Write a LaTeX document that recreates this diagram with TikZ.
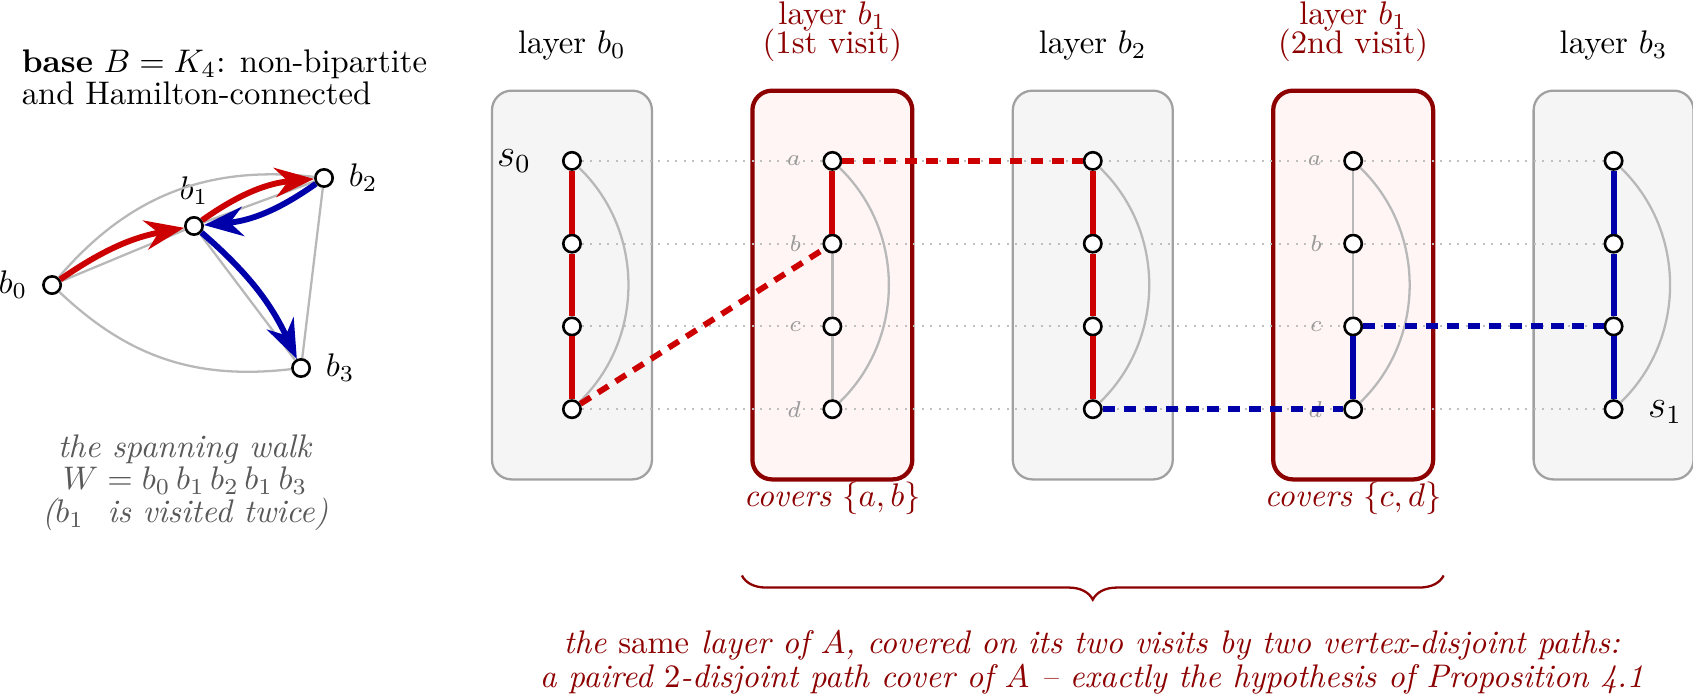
\documentclass[tikz,border=0pt]{standalone}
\usepackage{amsmath}
\usepackage{amssymb}
\usepackage{tikz}
\usetikzlibrary{arrows.meta}
\usetikzlibrary{decorations.pathreplacing}
\usetikzlibrary{positioning}
\usetikzlibrary{backgrounds}
\definecolor{walkred}{RGB}{204,0,0}
\definecolor{walkblue}{RGB}{0,0,170}
\definecolor{boxred}{RGB}{140,0,0}
\tikzset{basic/.style={draw,circle,fill=white,line width=0.8pt,
                       minimum size=5.3pt,inner sep=0pt}}
\tikzset{layerbox/.style={draw=black!37,fill=black!4,rounded corners=6pt,line width=0.7pt,
                          minimum width=1.72cm,minimum height=4.18cm}}
\tikzset{visitbox/.style={layerbox,draw=boxred,fill=red!4,line width=1.3pt}}
\def\layersep{2.8}
\def\rowsep{0.89}

\begin{document}
\begin{tikzpicture}[>={Stealth[length=12pt,width=9pt,inset=4pt]}]
    \tikzstyle{kedge}=[draw=black!28,line width=0.7pt]
    \tikzstyle{guide}=[draw=black!25,line width=0.6pt,dotted]
    \tikzstyle{walk}=[line width=1.8pt]
    \tikzstyle{jump}=[walk,dash pattern=on 3.7pt off 2.7pt]
    \tikzstyle{vlabel}=[text=black!40,font=\scriptsize]
    \tikzstyle{annot}=[align=center]

    \useasboundingbox (0,0) rectangle (18.204,-7.484);

    % The base graph B = K_4 and its spanning walk
    \node[anchor=north west,align=left] (title) at (0.11,-0.41)
        {\textbf{base} $B=K_4$: non-bipartite\\[-2.3pt]and Hamilton-connected};
    \node[basic,label={[label distance=1pt]left:$b_0$}] (B-0) at (0.56,-3.065) {};
    \node[basic,label=above:$b_1$] (B-1) at (2.086,-2.43) {};
    \node[basic,label={[label distance=1pt]right:$b_2$}] (B-2) at (3.484,-1.914) {};
    \node[basic,label={[label distance=1pt]right:$b_3$}] (B-3) at (3.237,-3.957) {};

    \path[kedge] (B-0) to[bend left=28] (B-2);
    \path[kedge] (B-0) to[bend right=25] (B-3);
    \foreach \source/\dest in {0/1,1/2,1/3,2/3}
        \path[kedge] (B-\source) -- (B-\dest);

    \draw[walk,walkred,->] (B-0) to[bend left=12] (B-1);
    \draw[walk,walkred,->] (B-1) to[bend left=15] (B-2);
    \draw[walk,walkblue,->] (B-2) to[bend left=15] (B-1);
    \draw[walk,walkblue,->] (B-1) to[bend left=12] (B-3);

    \node[annot,text=black!65] (walk) at (1.99,-5.19)
        {\textit{the spanning walk}\\[-2pt]$W=b_0\,b_1\,b_2\,b_1\,b_3$\\[-2pt]\textit{($b_1$ ~is visited twice)}};

    % Draw the layer vertices
    \foreach \i in {0,...,4}
        \foreach \v/\y in {a/1,b/2,c/3,d/4}
            \node[basic] (L\i-\v) at (6.15+\i*\layersep,-0.84-\y*\rowsep) {};

    % vertex names in the two copies of layer b_1
    \foreach \i in {1,3}
        \foreach \v in {a,b,c,d}
            \node[vlabel,left=3pt of L\i-\v] (N\i-\v) {$\v$};

    \node[left=6pt of L0-a,font=\large] (s0) {$s_0$};
    \node[right=4pt of L4-d,font=\large,yshift=-1pt] (s1) {$s_1$};

    % Boxes and guide lines behind the vertices
    \begin{pgfonlayer}{background}
        \foreach \i in {0,2,4}
            \node[layerbox] (box-\i) at (6.15+\i*\layersep,-3.065) {};
        \foreach \i in {1,3}
            \node[visitbox] (box-\i) at (6.15+\i*\layersep,-3.065) {};
        \foreach \v in {a,b,c,d}
            \path[guide] (L0-\v) -- (L4-\v);
    \end{pgfonlayer}

    % Layer titles
    \node[above=0.19cm of box-0] (top-0) {layer $b_0$};
    \node[above=0.16cm of box-1,annot,text=boxred] (top-1) {layer $b_1$\\[-3pt](1st visit)};
    \node[above=0.19cm of box-2] (top-2) {layer $b_2$};
    \node[above=0.16cm of box-3,annot,text=boxred] (top-3) {layer $b_1$\\[-3pt](2nd visit)};
    \node[above=0.19cm of box-4] (top-4) {layer $b_3$};

    \node[below=0pt of box-1,inner sep=0pt,text=boxred] (cov-1) {\textit{covers} $\{a,b\}$};
    \node[below=0pt of box-3,inner sep=0pt,text=boxred] (cov-3) {\textit{covers} $\{c,d\}$};

    % Edges inside every layer (a copy of the fibre)
    \foreach \i in {0,...,4}
    {
        \path[kedge] (L\i-a) -- (L\i-b) -- (L\i-c) -- (L\i-d);
        \path[kedge] (L\i-a) to[bend left=46] (L\i-d);
    }

    % The lifted walk: first path red, second path blue
    \draw[walk,walkred] (L0-a) -- (L0-b) -- (L0-c) -- (L0-d);
    \draw[jump,walkred] (L0-d) -- (L1-b);
    \draw[walk,walkred] (L1-b) -- (L1-a);
    \draw[jump,walkred] (L1-a) -- (L2-a);
    \draw[walk,walkred] (L2-a) -- (L2-b) -- (L2-c) -- (L2-d);
    \draw[jump,walkblue] (L2-d) -- (L3-d);
    \draw[walk,walkblue] (L3-d) -- (L3-c);
    \draw[jump,walkblue] (L3-c) -- (L4-c);
    \draw[walk,walkblue] (L4-a) -- (L4-b) -- (L4-c) -- (L4-d);

    % Brace and remark
    \draw[boxred,line width=0.7pt,decorate,decoration={brace,mirror,amplitude=0.26cm}]
        ([shift={(-0.09,-1.01)}]box-1.south west) -- ([shift={(0.09,-1.01)}]box-3.south east);
    \node[annot,text=boxred] (remark) at (11.74,-7.12)
        {\textit{the \emph{same} layer of $A$, covered on its two visits by two vertex-disjoint paths:}\\[-1.4pt]
         \textit{a paired $2$-disjoint path cover of $A$ -- exactly the hypothesis of Proposition 4.1}};
\end{tikzpicture}
\end{document}
